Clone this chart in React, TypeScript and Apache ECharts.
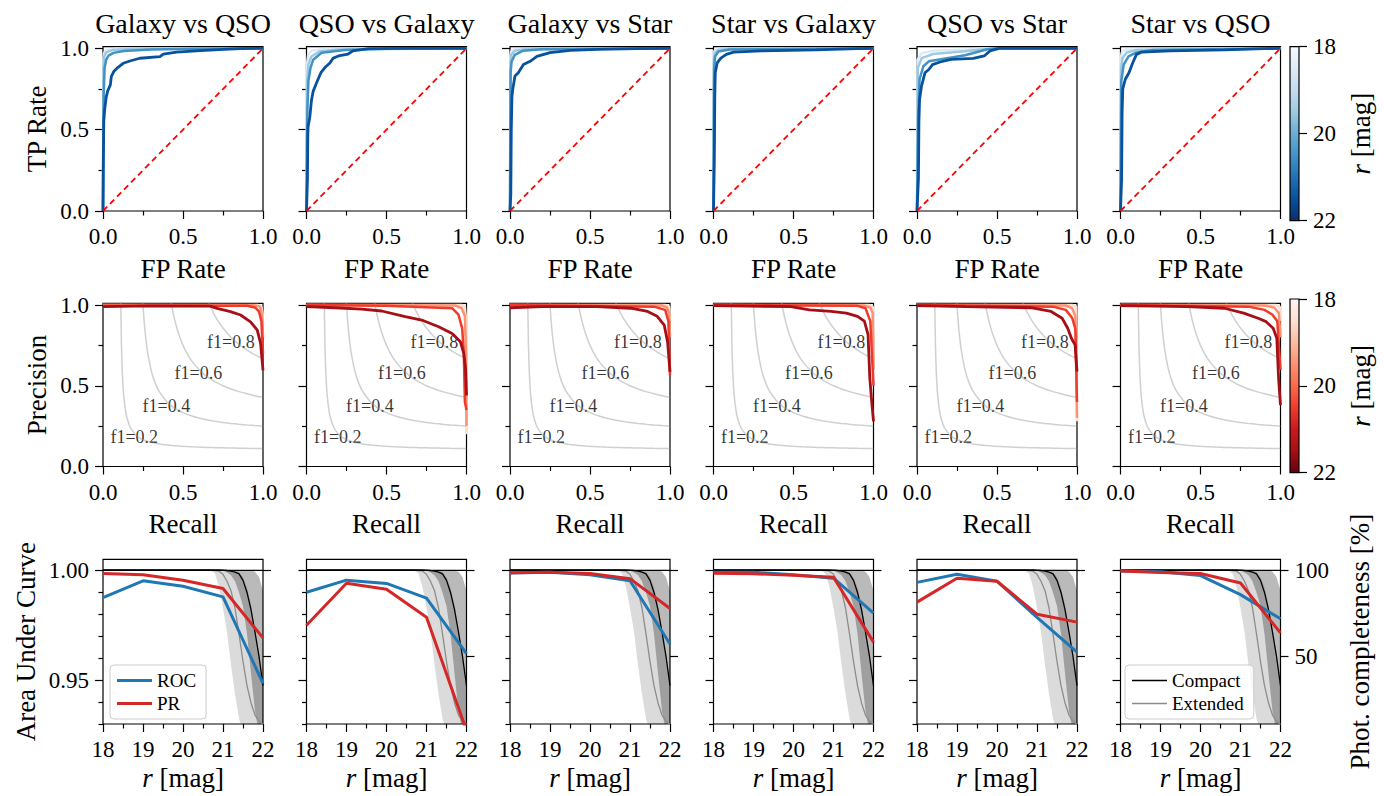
import React, { useEffect, useRef } from 'react';
import * as echarts from 'echarts';

type Pt = [number, number];

// ---------------- DATA ----------------
const panelTitles = ['Galaxy vs QSO', 'QSO vs Galaxy', 'Galaxy vs Star', 'Star vs Galaxy', 'QSO vs Star', 'Star vs QSO'];
const colorbarTicks = [18, 20, 22];
const bluesCurve = ['#deebf7', '#9ecae1', '#4292c6', '#08519c'];
const redsCurve = ['#fee0d2', '#fc9272', '#ef3b2c', '#a50f15'];
const bluesMap = ['#f7fbff', '#deebf7', '#c6dbef', '#9ecae1', '#6baed6', '#4292c6', '#2171b5', '#08519c', '#08306b'];
const redsMap = ['#fff5f0', '#fee0d2', '#fcbba1', '#fc9272', '#fb6a4a', '#ef3b2c', '#cb181d', '#a50f15', '#67000d'];

// ROC curves (FP rate, TP rate), one list per magnitude bin, bright -> faint
const rocGalaxyQso: Pt[][] = [
  [[0, 0], [0.002, 0.93], [0.006, 0.97], [0.02, 0.99], [0.08, 0.997], [1, 1]],
  [[0, 0], [0.003, 0.88], [0.008, 0.95], [0.02, 0.975], [0.06, 0.99], [0.2, 0.997], [1, 1]],
  [[0, 0], [0.004, 0.7], [0.01, 0.88], [0.02, 0.93], [0.035, 0.955], [0.065, 0.972], [0.13, 0.984], [0.3, 0.993], [0.6, 0.998], [1, 1]],
  [[0, 0], [0.002, 0.3], [0.005, 0.55], [0.01, 0.62], [0.02, 0.7], [0.03, 0.74], [0.046, 0.775], [0.052, 0.826], [0.067, 0.857], [0.094, 0.883], [0.126, 0.908], [0.168, 0.922], [0.23, 0.939], [0.356, 0.949], [0.377, 0.965], [0.46, 0.977], [0.608, 0.986], [0.755, 0.994], [0.86, 0.998], [1, 1]],
];
const rocQsoGalaxy: Pt[][] = [
  [[0, 0], [0.003, 0.9], [0.01, 0.96], [0.03, 0.985], [0.1, 0.996], [1, 1]],
  [[0, 0], [0.004, 0.8], [0.012, 0.9], [0.03, 0.95], [0.08, 0.98], [0.2, 0.993], [1, 1]],
  [[0, 0], [0.005, 0.6], [0.012, 0.8], [0.025, 0.88], [0.042, 0.93], [0.094, 0.973], [0.24, 0.99], [0.5, 0.998], [1, 1]],
  [[0, 0], [0.006, 0.2], [0.008, 0.45], [0.01, 0.52], [0.021, 0.58], [0.031, 0.68], [0.042, 0.737], [0.063, 0.788], [0.09, 0.85], [0.12, 0.887], [0.146, 0.91], [0.167, 0.94], [0.2, 0.953], [0.26, 0.965], [0.29, 0.984], [0.387, 0.998], [0.6, 1], [1, 1]],
];
const rocGalaxyStar: Pt[][] = [
  [[0, 0], [0.002, 0.95], [0.006, 0.98], [0.03, 0.995], [1, 1]],
  [[0, 0], [0.003, 0.9], [0.008, 0.96], [0.03, 0.985], [0.1, 0.995], [1, 1]],
  [[0, 0], [0.004, 0.85], [0.01, 0.92], [0.03, 0.96], [0.08, 0.985], [0.2, 0.995], [1, 1]],
  [[0, 0], [0.005, 0.1], [0.008, 0.5], [0.012, 0.7], [0.017, 0.747], [0.031, 0.83], [0.052, 0.85], [0.084, 0.9], [0.126, 0.92], [0.168, 0.95], [0.25, 0.973], [0.377, 0.988], [0.545, 0.994], [0.8, 0.998], [1, 1]],
];
const rocStarGalaxy: Pt[][] = [
  [[0, 0], [0.002, 0.96], [0.006, 0.985], [0.03, 0.997], [1, 1]],
  [[0, 0], [0.003, 0.93], [0.008, 0.97], [0.03, 0.99], [0.1, 0.997], [1, 1]],
  [[0, 0], [0.004, 0.88], [0.01, 0.95], [0.03, 0.98], [0.1, 0.993], [1, 1]],
  [[0, 0], [0.005, 0.3], [0.008, 0.7], [0.011, 0.85], [0.023, 0.91], [0.046, 0.94], [0.08, 0.963], [0.126, 0.977], [0.3, 0.984], [0.64, 0.99], [0.9, 0.998], [1, 1]],
];
const rocQsoStar: Pt[][] = [
  [[0, 0], [0.003, 0.93], [0.03, 0.97], [0.1, 0.985], [0.3, 0.993], [0.45, 1], [1, 1]],
  [[0, 0], [0.005, 0.88], [0.03, 0.94], [0.1, 0.965], [0.3, 0.982], [0.45, 0.997], [0.5, 1], [1, 1]],
  [[0, 0], [0.008, 0.6], [0.016, 0.81], [0.04, 0.89], [0.074, 0.92], [0.3, 0.957], [0.44, 0.994], [0.5, 1], [1, 1]],
  [[0, 0], [0.009, 0.2], [0.012, 0.55], [0.016, 0.685], [0.028, 0.767], [0.05, 0.85], [0.074, 0.87], [0.097, 0.9], [0.144, 0.916], [0.213, 0.932], [0.352, 0.938], [0.42, 0.953], [0.456, 0.984], [0.514, 1], [1, 1]],
];
const rocStarQso: Pt[][] = [
  [[0, 0], [0.002, 0.94], [0.008, 0.975], [0.03, 0.993], [1, 1]],
  [[0, 0], [0.004, 0.88], [0.012, 0.94], [0.04, 0.975], [0.1, 0.99], [1, 1]],
  [[0, 0], [0.005, 0.8], [0.02, 0.9], [0.05, 0.95], [0.1, 0.975], [0.2, 0.99], [1, 1]],
  [[0, 0], [0.007, 0.2], [0.01, 0.6], [0.014, 0.75], [0.03, 0.81], [0.053, 0.85], [0.076, 0.91], [0.1, 0.963], [0.134, 0.977], [0.31, 0.984], [0.65, 0.99], [0.9, 0.998], [1, 1]],
];
const rocCurves = [rocGalaxyQso, rocQsoGalaxy, rocGalaxyStar, rocStarGalaxy, rocQsoStar, rocStarQso];

// PR curves (recall, precision)
const prGalaxyQso: Pt[][] = [
  [[0, 1], [0.97, 1], [0.99, 0.99], [0.997, 0.95], [1, 0.85]],
  [[0, 1], [0.95, 0.998], [0.98, 0.99], [0.99, 0.96], [0.997, 0.9], [1, 0.8]],
  [[0, 0.995], [0.9, 0.995], [0.95, 0.985], [0.975, 0.96], [0.99, 0.9], [1, 0.7]],
  [[0, 0.99], [0.3, 0.995], [0.67, 0.993], [0.713, 0.979], [0.797, 0.959], [0.86, 0.938], [0.922, 0.896], [0.964, 0.845], [0.985, 0.762], [1, 0.596]],
];
const prQsoGalaxy: Pt[][] = [
  [[0, 1], [0.97, 1], [0.99, 0.99], [0.998, 0.9], [1, 0.2]],
  [[0, 1], [0.93, 0.997], [0.97, 0.98], [0.99, 0.93], [0.997, 0.7], [1, 0.25]],
  [[0, 1], [0.5, 0.995], [0.91, 0.98], [0.95, 0.94], [0.973, 0.855], [0.983, 0.71], [0.99, 0.4], [1, 0.35]],
  [[0, 0.99], [0.18, 0.983], [0.345, 0.975], [0.47, 0.963], [0.617, 0.928], [0.72, 0.907], [0.826, 0.865], [0.91, 0.824], [0.962, 0.772], [0.983, 0.7], [0.994, 0.607], [1, 0.44]],
];
const prGalaxyStar: Pt[][] = [
  [[0, 1], [0.97, 1], [0.995, 0.99], [1, 0.9]],
  [[0, 1], [0.95, 0.997], [0.98, 0.985], [0.995, 0.95], [1, 0.8]],
  [[0, 1], [0.9, 0.99], [0.97, 0.97], [0.99, 0.9], [1, 0.565]],
  [[0, 0.983], [0.2, 0.99], [0.545, 0.99], [0.755, 0.98], [0.86, 0.96], [0.92, 0.93], [0.964, 0.876], [0.985, 0.77], [1, 0.586]],
];
const prStarGalaxy: Pt[][] = [
  [[0, 1], [0.97, 1], [0.995, 0.99], [1, 0.8]],
  [[0, 1], [0.94, 0.997], [0.98, 0.985], [0.995, 0.95], [1, 0.6]],
  [[0, 1], [0.9, 0.995], [0.95, 0.98], [0.98, 0.9], [1, 0.5]],
  [[0, 0.996], [0.483, 0.99], [0.6, 0.97], [0.736, 0.96], [0.83, 0.95], [0.9, 0.93], [0.943, 0.9], [0.966, 0.816], [0.977, 0.546], [0.989, 0.4], [1, 0.28]],
];
const prQsoStar: Pt[][] = [
  [[0, 1], [0.97, 1], [0.995, 0.99], [1, 0.28]],
  [[0, 1], [0.93, 0.997], [0.97, 0.98], [0.99, 0.93], [1, 0.3]],
  [[0, 1], [0.85, 0.99], [0.93, 0.97], [0.97, 0.92], [0.99, 0.85], [1, 0.4]],
  [[0, 0.996], [0.305, 0.99], [0.72, 0.983], [0.838, 0.96], [0.907, 0.918], [0.942, 0.856], [0.965, 0.794], [0.988, 0.753], [1, 0.588]],
];
const prStarQso: Pt[][] = [
  [[0, 1], [0.97, 1], [0.995, 0.99], [1, 0.9]],
  [[0, 1], [0.9, 0.997], [0.96, 0.985], [0.99, 0.95], [1, 0.8]],
  [[0, 1], [0.8, 0.99], [0.9, 0.97], [0.95, 0.94], [0.98, 0.9], [1, 0.6]],
  [[0, 0.996], [0.42, 0.99], [0.65, 0.98], [0.77, 0.95], [0.86, 0.918], [0.91, 0.897], [0.954, 0.856], [0.977, 0.794], [0.988, 0.546], [1, 0.38]],
];
const prCurves = [prGalaxyQso, prQsoGalaxy, prGalaxyStar, prStarGalaxy, prQsoStar, prStarQso];

// iso-F1 reference curves
const f1Scores = [0.2, 0.4, 0.6, 0.8];
const f1LabelAt: Pt[] = [[0.046, 0.182], [0.247, 0.375], [0.447, 0.58], [0.65, 0.772]];
const recallSamples = [0.1, 0.105, 0.11, 0.115, 0.12, 0.125, 0.13, 0.14, 0.15, 0.17, 0.2, 0.21, 0.22, 0.23, 0.24, 0.25, 0.26, 0.27, 0.28, 0.3, 0.32, 0.35, 0.4, 0.42, 0.43, 0.44, 0.45, 0.47, 0.5, 0.53, 0.56, 0.6, 0.63, 0.66, 0.67, 0.68, 0.7, 0.72, 0.75, 0.8, 0.85, 0.9, 0.95, 1.0];

// Area under curve vs magnitude
const magTicks = [18, 19, 20, 21, 22];
const aucRoc = [
  [0.9876, 0.9952, 0.9927, 0.9879, 0.9485],
  [0.9900, 0.9955, 0.9940, 0.9873, 0.9620],
  [0.9988, 0.9991, 0.9980, 0.9952, 0.9664],
  [0.9991, 0.9991, 0.9980, 0.9964, 0.9805],
  [0.9945, 0.9982, 0.9950, 0.9786, 0.9627],
  [0.9997, 0.9993, 0.9976, 0.9889, 0.9779],
];
const aucPr = [
  [0.9985, 0.9980, 0.9955, 0.9917, 0.9692],
  [0.9750, 0.9941, 0.9914, 0.9786, 0.9270],
  [0.9989, 0.9991, 0.9985, 0.9962, 0.9826],
  [0.9986, 0.9984, 0.9977, 0.9968, 0.9673],
  [0.9855, 0.9964, 0.9950, 0.9800, 0.9764],
  [0.9997, 0.9990, 0.9985, 0.9942, 0.9715],
];

// Photometric completeness [%]
const magGrid = [18, 20.5, 20.6, 20.7, 20.8, 20.9, 21.0, 21.1, 21.2, 21.3, 21.4, 21.5, 21.6, 21.7, 21.8, 21.9, 22.0];
const compactLine = [100, 100, 100, 100, 100, 100, 99.9, 99.7, 99.4, 98.8, 97.8, 94, 87, 77, 64, 50, 33];
const compactLow = [100, 100, 100, 100, 100, 99.8, 99.5, 98.5, 97, 93.5, 87, 79, 63, 40, 18, 6, 2];
const compactHigh = [100, 100, 100, 100, 100, 100, 100, 100, 100, 100, 100, 100, 100, 99.8, 99, 96, 88];
const extendedLine = [100, 100, 100, 99.9, 99.7, 99.3, 97.5, 93.5, 88, 78, 63, 47, 33, 23, 16, 12.5, 10.5];
const extendedLow = [100, 100, 99.8, 99.5, 98, 90, 78, 64, 45, 28, 14, 6, 3, 2, 1, 1, 1];
const extendedHigh = [100, 100, 100, 100, 100, 100, 100, 100, 100, 99.8, 99, 96, 90, 80, 65, 50, 35];

// ---------------- LAYOUT / STYLE ----------------
const FONT = 'Liberation Serif';
const colLeft = [103, 306.5, 510, 713.5, 917, 1120.5];
const panelW = 160;
const rowBox = [
  { top: 46.7, height: 164.3 },
  { top: 303.4, height: 163.1 },
  { top: 559.3, height: 164.7 },
];
const tickLine = { color: '#000', width: 1.2 };
const labelFont = { color: '#000', fontSize: 23, fontFamily: FONT };
const nameFont = {
  color: '#000', fontSize: 27, fontFamily: FONT,
  rich: { i: { fontStyle: 'italic', fontSize: 27, fontFamily: FONT, color: '#000' } },
};

function gradient(stops: string[]) {
  return new echarts.graphic.LinearGradient(0, 0, 0, 1,
    stops.map((c, i) => ({ offset: i / (stops.length - 1), color: c })));
}

function buildOption() {
  const grid: any[] = [];
  const xAxis: any[] = [];
  const yAxis: any[] = [];
  const series: any[] = [];

  const boxGrid = (c: number, r: number) => ({
    left: colLeft[c], width: panelW, top: rowBox[r].top, height: rowBox[r].height,
    show: true, borderColor: '#000', borderWidth: 1.2, backgroundColor: 'transparent',
  });
  const hiddenLine = { show: false, onZero: false };

  const unitX = (g: number, name: string) => ({
    type: 'value', gridIndex: g, min: 0, max: 1, interval: 0.5, position: 'bottom',
    axisLine: hiddenLine, splitLine: { show: false }, minorSplitLine: { show: false },
    axisTick: { show: true, length: 8, lineStyle: tickLine },
    minorTick: { show: true, splitNumber: 2, length: 4.5, lineStyle: tickLine },
    axisLabel: { ...labelFont, margin: 14, showMinLabel: true, showMaxLabel: true, formatter: (v: number) => v.toFixed(1) },
    name, nameLocation: 'middle', nameGap: 44, nameTextStyle: nameFont,
  });
  const unitY = (g: number, name: string, showLabel: boolean) => ({
    type: 'value', gridIndex: g, min: 0, max: 1.01, position: 'left',
    axisLine: hiddenLine, splitLine: { show: false },
    axisTick: { show: true, length: 8, lineStyle: tickLine, customValues: [0, 0.5, 1] },
    axisLabel: { show: showLabel, ...labelFont, margin: 14, customValues: [0, 0.5, 1], formatter: (v: number) => v.toFixed(1) },
    name, nameLocation: 'middle', nameGap: 53, nameTextStyle: nameFont,
  });
  const minorY = (g: number, min: number, max: number, vals: number[], pos: string) => ({
    type: 'value', gridIndex: g, min, max, position: pos,
    axisLine: hiddenLine, splitLine: { show: false },
    axisTick: { show: true, length: 4.5, lineStyle: tickLine, customValues: vals },
    axisLabel: { show: false },
  });
  const curve = (xi: number, yi: number, data: Pt[], color: string, width: number, extra: any = {}) => ({
    type: 'line', xAxisIndex: xi, yAxisIndex: yi, data, showSymbol: false, symbol: 'none',
    lineStyle: { color, width }, itemStyle: { color }, clip: true, silent: true, ...extra,
  });

  for (let c = 0; c < 6; c++) {
    // ---------- Row 1: ROC ----------
    const g0 = grid.length; grid.push(boxGrid(c, 0));
    const x0 = xAxis.length; xAxis.push(unitX(g0, 'FP Rate'));
    const y0 = yAxis.length; yAxis.push(unitY(g0, c === 0 ? 'TP Rate' : '', c === 0));
    yAxis.push(minorY(g0, 0, 1.01, [0.25, 0.75], 'left'));
    rocCurves[c].forEach((cv, k) => series.push(curve(x0, y0, cv, bluesCurve[k], k === 3 ? 2.8 : 2.5)));
    series.push(curve(x0, y0, [[0, 0], [1, 1]], '#ff0000', 1.8, { lineStyle: { color: '#ff0000', width: 1.8, type: [6, 4] } }));

    // ---------- Row 2: PR ----------
    const g1 = grid.length; grid.push(boxGrid(c, 1));
    const x1 = xAxis.length; xAxis.push(unitX(g1, 'Recall'));
    const y1 = yAxis.length; yAxis.push(unitY(g1, c === 0 ? 'Precision' : '', c === 0));
    yAxis.push(minorY(g1, 0, 1.01, [0.25, 0.75], 'left'));
    f1Scores.forEach((f) => {
      const pts = recallSamples.filter((r) => 2 * r - f > 0)
        .map((r) => [r, (f * r) / (2 * r - f)] as Pt)
        .filter((p) => p[1] <= 1.6);
      series.push(curve(x1, y1, pts, 'rgba(150,150,150,0.45)', 1.5, { smooth: 0.3 }));
    });
    series.push({
      type: 'scatter', xAxisIndex: x1, yAxisIndex: y1, silent: true, symbolSize: 0.1,
      itemStyle: { color: 'transparent' },
      data: f1LabelAt.map((p, i) => ({ value: p, label: { formatter: 'f1=' + f1Scores[i].toFixed(1) } })),
      label: { show: true, position: 'right', distance: 0, fontSize: 18, fontFamily: FONT, color: '#000' },
    });
    prCurves[c].forEach((cv, k) => series.push(curve(x1, y1, cv, redsCurve[k], k === 3 ? 2.8 : 2.5)));

    // ---------- Row 3: AUC vs magnitude ----------
    const g2 = grid.length; grid.push(boxGrid(c, 2));
    const x2 = xAxis.length;
    xAxis.push({
      type: 'value', gridIndex: g2, min: 18, max: 22, interval: 1, position: 'bottom',
      axisLine: hiddenLine, splitLine: { show: false }, minorSplitLine: { show: false },
      axisTick: { show: true, length: 8, lineStyle: tickLine },
      minorTick: { show: true, splitNumber: 2, length: 4.5, lineStyle: tickLine },
      axisLabel: { ...labelFont, margin: 14, showMinLabel: true, showMaxLabel: true },
      name: '{i|r} [mag]', nameLocation: 'middle', nameGap: 40, nameTextStyle: nameFont,
    });
    const y2 = yAxis.length;
    yAxis.push({
      type: 'value', gridIndex: g2, min: 0.93, max: 1.005, position: 'left',
      axisLine: hiddenLine, splitLine: { show: false },
      axisTick: { show: true, length: 8, lineStyle: tickLine, customValues: [0.95, 1.0] },
      axisLabel: { show: c === 0, ...labelFont, margin: 14, customValues: [0.95, 1.0], formatter: (v: number) => v.toFixed(2) },
      name: c === 0 ? 'Area Under Curve' : '', nameLocation: 'middle', nameGap: 64, nameTextStyle: nameFont,
    });
    yAxis.push(minorY(g2, 0.93, 1.005, [0.93, 0.94, 0.96, 0.97, 0.98, 0.99], 'left'));
    const yr = yAxis.length;
    yAxis.push({
      type: 'value', gridIndex: g2, min: 10.8, max: 106.2, position: 'right',
      axisLine: hiddenLine, splitLine: { show: false },
      axisTick: { show: true, length: 8, lineStyle: tickLine, customValues: [50, 100] },
      axisLabel: { show: c === 5, ...labelFont, margin: 14, customValues: [50, 100] },
      name: c === 5 ? 'Phot. completeness [%]' : '', nameLocation: 'middle', nameRotate: 90, nameGap: 66, nameTextStyle: nameFont,
    });
    const band = (low: number[], high: number[], fill: string) => {
      series.push({
        type: 'custom', xAxisIndex: x2, yAxisIndex: yr, silent: true, clip: true,
        data: [[20, 50]],
        renderItem: (_params: any, api: any) => {
          const upper = magGrid.map((m, i) => api.coord([m, high[i]]));
          const lower = magGrid.map((m, i) => api.coord([m, low[i]])).reverse();
          return { type: 'polygon', shape: { points: upper.concat(lower) }, style: { fill, stroke: 'none' } };
        },
      });
    };
    band(extendedLow, extendedHigh, 'rgba(0,0,0,0.14)');
    band(compactLow, compactHigh, 'rgba(0,0,0,0.27)');
    series.push(curve(x2, yr, magGrid.map((m, i) => [m, extendedLine[i]] as Pt), '#8c8c8c', 1.3, { name: 'Extended' }));
    series.push(curve(x2, yr, magGrid.map((m, i) => [m, compactLine[i]] as Pt), '#000000', 1.3, { name: 'Compact' }));
    series.push(curve(x2, y2, [[18, 1], [22, 1]], '#000000', 1.2));
    series.push(curve(x2, y2, magTicks.map((m, i) => [m, aucRoc[c][i]] as Pt), '#1f77b4', 3, { name: 'ROC' }));
    series.push(curve(x2, y2, magTicks.map((m, i) => [m, aucPr[c][i]] as Pt), '#d62728', 3, { name: 'PR' }));
  }

  // ---------- Colorbars ----------
  const colorbar = (top: number, height: number, stops: string[]) => {
    const g = grid.length;
    grid.push({ left: 1290, width: 9, top, height, show: true, borderColor: '#000', borderWidth: 1.2, backgroundColor: gradient(stops) });
    xAxis.push({ type: 'value', gridIndex: g, show: false, min: 0, max: 1 });
    yAxis.push({
      type: 'value', gridIndex: g, min: 18, max: 22, inverse: true, position: 'right',
      axisLine: hiddenLine, splitLine: { show: false },
      axisTick: { show: true, length: 8, lineStyle: tickLine, customValues: colorbarTicks },
      axisLabel: { ...labelFont, margin: 14, customValues: colorbarTicks },
      name: '{i|r} [mag]', nameLocation: 'middle', nameRotate: 90, nameGap: 48, nameTextStyle: nameFont,
    });
  };
  colorbar(46.7, 174, bluesMap);
  colorbar(299, 173.7, redsMap);

  const legendBase = {
    orient: 'vertical', itemWidth: 35, itemGap: 4, selectedMode: false,
    padding: [6, 10, 6, 7], backgroundColor: 'rgba(255,255,255,0.8)', borderColor: '#cccccc',
    borderWidth: 1, borderRadius: 4, textStyle: { fontSize: 19, fontFamily: FONT, color: '#000' },
  };

  const graphic = panelTitles.map((t, i) => ({
    type: 'text', x: colLeft[i] + panelW / 2, y: 23,
    style: { text: t, fontSize: 28, fontFamily: FONT, fill: '#000', align: 'center', verticalAlign: 'middle' },
  }));

  return {
    animation: false,
    backgroundColor: '#ffffff',
    textStyle: { fontFamily: FONT },
    grid, xAxis, yAxis, series, graphic,
    legend: [
      { ...legendBase, itemHeight: 3, data: [{ name: 'ROC', icon: 'rect' }, { name: 'PR', icon: 'rect' }], left: 110, top: 665 },
      { ...legendBase, itemHeight: 1.6, data: [{ name: 'Compact', icon: 'rect' }, { name: 'Extended', icon: 'rect' }], left: 1125, top: 665 },
    ],
  };
}

export default function App() {
  const ref = useRef<HTMLDivElement>(null);
  useEffect(() => {
    document.body.style.margin = '0';
    const chart = echarts.init(ref.current!, null, { renderer: 'svg', width: 1384, height: 796 });
    chart.setOption(buildOption() as any);
    return () => chart.dispose();
  }, []);
  return <div ref={ref} style={{ width: 1384, height: 796, background: '#fff' }} />;
}
